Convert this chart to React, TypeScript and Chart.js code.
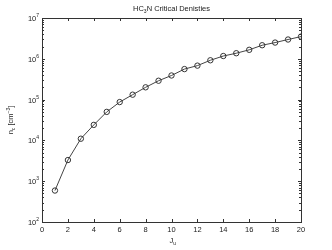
import React, { useEffect, useRef } from "react";
import { Chart, registerables } from "chart.js";

Chart.register(...registerables);

const jValues = [1, 2, 3, 4, 5, 6, 7, 8, 9, 10, 11, 12, 13, 14, 15, 16, 17, 18, 19, 20];
const critDensity = [
  590, 3300, 11000, 24000, 50000, 87000, 132000, 200000, 290000, 390000,
  560000, 680000, 920000, 1170000, 1370000, 1660000, 2150000, 2500000, 2970000, 3500000,
];
const xTicks = [0, 2, 4, 6, 8, 10, 12, 14, 16, 18, 20];
const yExponents = [2, 3, 4, 5, 6, 7];

const FONT = "Liberation Sans, Arial, Helvetica, sans-serif";
const AXIS = "#333333";
const BIG = 7.5;
const SMALL = 5;

const matlabPlugin = {
  id: "matlabAxes",
  afterDraw(chart: any) {
    const ctx = chart.ctx as CanvasRenderingContext2D;
    const { left, right, top, bottom } = chart.chartArea;
    const xs = chart.scales.x;
    const ys = chart.scales.y;
    ctx.save();
    ctx.strokeStyle = AXIS;
    ctx.lineWidth = 1;
    ctx.strokeRect(Math.round(left) + 0.5, Math.round(top) + 0.5, Math.round(right - left), Math.round(bottom - top));
    ctx.beginPath();
    for (const t of xTicks) {
      const px = Math.round(xs.getPixelForValue(t)) + 0.5;
      ctx.moveTo(px, bottom);
      ctx.lineTo(px, bottom - 3);
      ctx.moveTo(px, top);
      ctx.lineTo(px, top + 3);
    }
    for (const e of yExponents) {
      const base = Math.pow(10, e);
      const py = Math.round(ys.getPixelForValue(base)) + 0.5;
      ctx.moveTo(left, py);
      ctx.lineTo(left + 3, py);
      ctx.moveTo(right, py);
      ctx.lineTo(right - 3, py);
      if (e < 7) {
        for (let m = 2; m <= 9; m++) {
          const pm = Math.round(ys.getPixelForValue(base * m)) + 0.5;
          ctx.moveTo(left, pm);
          ctx.lineTo(left + 2, pm);
          ctx.moveTo(right, pm);
          ctx.lineTo(right - 2, pm);
        }
      }
    }
    ctx.stroke();

    ctx.fillStyle = "#222222";
    ctx.font = `${BIG}px ${FONT}`;
    ctx.textAlign = "center";
    ctx.textBaseline = "top";
    for (const t of xTicks) {
      ctx.fillText(String(t), xs.getPixelForValue(t), bottom + 4);
    }
    for (const e of yExponents) {
      const py = ys.getPixelForValue(Math.pow(10, e));
      ctx.font = `${SMALL}px ${FONT}`;
      ctx.textAlign = "left";
      ctx.textBaseline = "alphabetic";
      const ew = ctx.measureText(String(e)).width;
      ctx.fillText(String(e), left - 3 - ew, py - 1);
      ctx.font = `${BIG}px ${FONT}`;
      ctx.textAlign = "right";
      ctx.textBaseline = "middle";
      ctx.fillText("10", left - 3 - ew, py + 1);
    }
    const cx = (left + right) / 2;
    ctx.textBaseline = "alphabetic";
    ctx.textAlign = "left";
    const p1 = "HC", p2 = "3", p3 = "N Critical Denisties";
    ctx.font = `${BIG}px ${FONT}`;
    const w1 = ctx.measureText(p1).width;
    const w3 = ctx.measureText(p3).width;
    ctx.font = `${SMALL}px ${FONT}`;
    const w2 = ctx.measureText(p2).width;
    const sx = cx - (w1 + w2 + w3) / 2;
    const ty = 11;
    ctx.font = `${BIG}px ${FONT}`;
    ctx.fillText(p1, sx, ty);
    ctx.font = `${SMALL}px ${FONT}`;
    ctx.fillText(p2, sx + w1, ty + 2);
    ctx.font = `${BIG}px ${FONT}`;
    ctx.fillText(p3, sx + w1 + w2, ty);

    ctx.font = `${BIG}px ${FONT}`;
    const wj = ctx.measureText("J").width;
    ctx.fillText("J", cx - 2, 243);
    ctx.font = `${SMALL}px ${FONT}`;
    ctx.fillText("u", cx - 2 + wj, 245);

    ctx.translate(13, (top + bottom) / 2);
    ctx.rotate(-Math.PI / 2);
    ctx.font = `${BIG}px ${FONT}`;
    const wn = ctx.measureText("n").width;
    const wb = ctx.measureText(" [cm").width;
    const wend = ctx.measureText("]").width;
    ctx.font = `${SMALL}px ${FONT}`;
    const wc = ctx.measureText("c").width;
    const ws = ctx.measureText("\u22123").width;
    const total = wn + wc + wb + ws + wend;
    let ox = -total / 2;
    ctx.font = `${BIG}px ${FONT}`;
    ctx.fillText("n", ox, 0);
    ox += wn;
    ctx.font = `${SMALL}px ${FONT}`;
    ctx.fillText("c", ox, 2);
    ox += wc;
    ctx.font = `${BIG}px ${FONT}`;
    ctx.fillText(" [cm", ox, 0);
    ox += wb;
    ctx.font = `${SMALL}px ${FONT}`;
    ctx.fillText("\u22123", ox, -3);
    ox += ws;
    ctx.font = `${BIG}px ${FONT}`;
    ctx.fillText("]", ox, 0);
    ctx.restore();
  },
};

export default function App() {
  const ref = useRef<HTMLCanvasElement>(null);
  useEffect(() => {
    document.body.style.margin = "0";
    const chart = new Chart(ref.current!, {
      type: "line",
      data: {
        labels: jValues,
        datasets: [
          {
            data: jValues.map((j, i) => ({ x: j, y: critDensity[i] })),
            borderColor: "#444444",
            borderWidth: 1,
            pointStyle: "circle",
            pointRadius: 2.7,
            pointBorderWidth: 1,
            pointBorderColor: "#333333",
            pointBackgroundColor: "rgba(0,0,0,0)",
            fill: false,
            tension: 0,
          },
        ],
      },
      options: {
        animation: false,
        responsive: false,
        maintainAspectRatio: false,
        layout: { padding: { left: 42, top: 18, right: 31, bottom: 28 } },
        plugins: { legend: { display: false }, tooltip: { enabled: false }, title: { display: false } },
        scales: {
          x: { type: "linear", min: 0, max: 20, display: false },
          y: { type: "logarithmic", min: 100, max: 10000000, display: false },
        },
      },
      plugins: [matlabPlugin],
    });
    return () => chart.destroy();
  }, []);
  return (
    <div style={{ width: 332, height: 250, background: "#fff" }}>
      <canvas ref={ref} width={332} height={250} style={{ display: "block" }} />
    </div>
  );
}
